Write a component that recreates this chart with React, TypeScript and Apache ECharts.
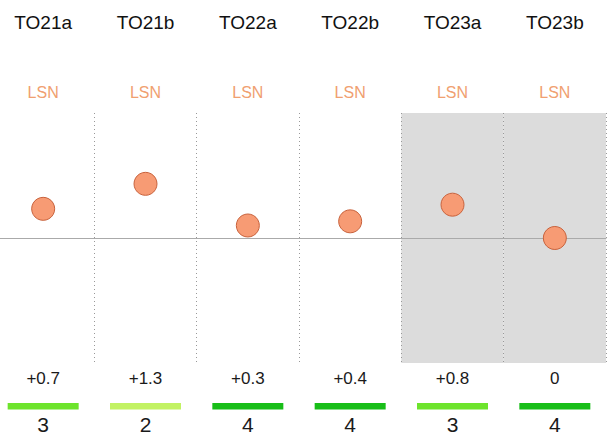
import React, { useEffect, useRef } from "react";
import * as echarts from "echarts";

const categories = ["TO21a", "TO21b", "TO22a", "TO22b", "TO23a", "TO23b"];
const subLabels = ["LSN", "LSN", "LSN", "LSN", "LSN", "LSN"];
const values = [0.7, 1.3, 0.3, 0.4, 0.8, 0];
const scores = [3, 2, 4, 4, 3, 4];
const shadedCategories = ["TO23a", "TO23b"];
const yMin = -3;
const yMax = 3;

const scoreColors: Record<number, string> = {
  2: "#c2f263",
  3: "#6de42c",
  4: "#18be18",
};

const fmt = (v: number) => (v > 0 ? "+" + v : String(v));

export default function App() {
  const ref = useRef<HTMLDivElement>(null);
  useEffect(() => {
    const chart = echarts.init(ref.current!, null, { renderer: "svg" });
    const font = "'Liberation Sans', Arial, sans-serif";
    const gridLeft = 0;
    const gridWidth = 614;
    const plainAxis = {
      type: "category" as const,
      data: categories,
      axisLine: { show: false, onZero: false },
      axisTick: { show: false },
      splitLine: { show: false },
    };
    chart.setOption({
      animation: false,
      textStyle: { fontFamily: font },
      grid: [
        { left: gridLeft, width: gridWidth, top: 113, height: 250 },
        { left: gridLeft, width: gridWidth, top: 403, height: 7 },
      ],
      xAxis: [
        {
          type: "category",
          data: categories,
          gridIndex: 0,
          position: "bottom",
          axisLine: { show: true, onZero: true, lineStyle: { color: "#aaaaaa", width: 1 } },
          axisTick: { show: false },
          axisLabel: { show: false },
          splitLine: { show: true, lineStyle: { color: "#999999", type: [1, 3], width: 1 } },
          z: 3,
        },
        {
          ...plainAxis,
          gridIndex: 0,
          position: "top",
          offset: 91,
          axisLabel: {
            interval: 0, margin: 0, verticalAlign: "middle",
            fontSize: 19, color: "#111111", fontFamily: font,
          },
        },
        {
          ...plainAxis,
          gridIndex: 0,
          position: "top",
          offset: 21,
          axisLabel: {
            interval: 0, margin: 0, verticalAlign: "middle",
            fontSize: 16, color: "#f0a070", fontFamily: font,
            formatter: (_v: string, i: number) => subLabels[i],
          },
        },
        {
          ...plainAxis,
          gridIndex: 0,
          position: "bottom",
          offset: 15,
          axisLabel: {
            interval: 0, margin: 0, verticalAlign: "middle",
            fontSize: 17, color: "#1a1a1a", fontFamily: font,
            formatter: (_v: string, i: number) => fmt(values[i]),
          },
        },
        {
          ...plainAxis,
          gridIndex: 1,
          position: "bottom",
          offset: 15,
          axisLabel: {
            interval: 0, margin: 0, verticalAlign: "middle",
            fontSize: 21, color: "#1a1a1a", fontFamily: font,
            formatter: (_v: string, i: number) => String(scores[i]),
          },
        },
      ],
      yAxis: [
        { type: "value", gridIndex: 0, min: yMin, max: yMax, show: false },
        { type: "value", gridIndex: 1, min: 0, max: 1, show: false },
      ],
      series: [
        {
          type: "bar",
          xAxisIndex: 0,
          yAxisIndex: 0,
          data: categories.map((c) => (shadedCategories.includes(c) ? yMax : null)),
          barWidth: "100%",
          barGap: "-100%",
          itemStyle: { color: "#dcdcdc" },
          silent: true,
          z: -1,
        },
        {
          type: "bar",
          xAxisIndex: 0,
          yAxisIndex: 0,
          data: categories.map((c) => (shadedCategories.includes(c) ? yMin : null)),
          barWidth: "100%",
          barGap: "-100%",
          itemStyle: { color: "#dcdcdc" },
          silent: true,
          z: -1,
        },
        {
          type: "scatter",
          xAxisIndex: 0,
          yAxisIndex: 0,
          data: values,
          symbolSize: 23,
          itemStyle: { color: "#f79b74", borderColor: "#c8623c", borderWidth: 1, opacity: 1 },
          z: 5,
        },
        {
          type: "bar",
          xAxisIndex: 4,
          yAxisIndex: 1,
          data: scores.map((s) => ({ value: 1, itemStyle: { color: scoreColors[s] } })),
          barWidth: 71,
        },
      ],
    });
    return () => chart.dispose();
  }, []);
  return (
    <div
      ref={ref}
      style={{ position: "fixed", left: -8, top: 0, width: 616, height: 435, background: "#ffffff" }}
    />
  );
}
